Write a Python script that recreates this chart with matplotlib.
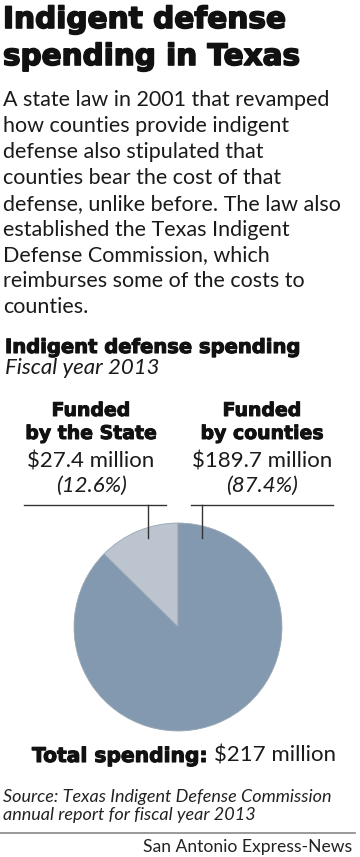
import matplotlib
matplotlib.use("Agg")
import matplotlib.pyplot as plt
import matplotlib.patheffects as pe
from matplotlib.lines import Line2D

# data
labels = ["Funded\nby the State", "Funded\nby counties"]
amounts = [27.4, 189.7]          # millions of dollars
shares = [12.6, 87.4]            # percent
total = 217
colors = ["#bcc4cf", "#8299af"]

title_lines = ["Indigent defense", "spending in Texas"]
body_lines = ["A state law in 2001 that revamped",
              "how counties provide indigent",
              "defense also stipulated that",
              "counties bear the cost of that",
              "defense, unlike before. The law also",
              "established the Texas Indigent",
              "Defense Commission, which",
              "reimburses some of the costs to",
              "counties."]
source_lines = ["Source: Texas Indigent Defense Commission",
                "annual report for fiscal year 2013"]

W, H = 360, 857
fig = plt.figure(figsize=(W / 100, H / 100), dpi=100)
fig.patch.set_facecolor("white")
FONT = "Lato"
BOLD = "DejaVu Sans"


def px(x, y):
    return x / W, 1 - y / H


def txt(x, y, s, width=None, heavy=0, **kw):
    kw.setdefault("family", FONT)
    kw.setdefault("va", "baseline")
    t = fig.text(*px(x, y), s, **kw)
    if heavy:
        # thicken the strokes a bit, the original uses a black weight
        t.set_path_effects([pe.withStroke(linewidth=heavy, foreground=t.get_color())])
    if width:
        # scale the font so the line takes the same width as in the reference
        fig.canvas.draw()
        w = t.get_window_extent().width
        t.set_fontsize(t.get_fontsize() * width / w)
    return t


# header
txt(3, 28, title_lines[0], width=283, heavy=1.2, fontsize=20, family=BOLD,
    weight="bold", color="#111111")
txt(3, 65, title_lines[1], width=297, heavy=1.2, fontsize=20, family=BOLD,
    weight="bold", color="#111111")
for i, line in enumerate(body_lines):
    txt(3, 106 + 25.9 * i, line, fontsize=15.5, color="#1a1a1a")

txt(5, 353, "Indigent defense spending", width=296, heavy=0.8, fontsize=14,
    family=BOLD, weight="bold", color="#111111")
txt(5, 374, "Fiscal year 2013", width=155, fontsize=14, style="italic", color="#1a1a1a")

# labels above the pie
centers = [91, 262]
for cx, lab, amt, sh in zip(centers, labels, amounts, shares):
    l1, l2 = lab.split("\n")
    txt(cx, 416, l1, fontsize=13.6, heavy=0.7, family=BOLD, weight="bold",
        ha="center", color="#111111")
    txt(cx, 439, l2, fontsize=13.6, heavy=0.7, family=BOLD, weight="bold",
        ha="center", color="#111111")
    txt(cx, 468, "$%.1f million" % amt, fontsize=16, ha="center", color="#1a1a1a")
    txt(cx, 492, "(%.1f%%)" % sh, fontsize=16, style="italic", ha="center", color="#1a1a1a")

# leader lines
for x0, x1, xt in [(24, 166, 148), (191, 333, 202)]:
    fig.add_artist(Line2D([x0 / W, x1 / W], [1 - 505 / H] * 2, color="#333333", lw=1))
    fig.add_artist(Line2D([xt / W] * 2, [1 - 505 / H, 1 - 538 / H], color="#333333", lw=1))

# pie
r = 105
ax = fig.add_axes([(178 - r) / W, (H - 627 - r) / H, 2 * r / W, 2 * r / H])
ax.pie(amounts, colors=colors, startangle=90, counterclock=True, radius=1,
       wedgeprops=dict(edgecolor="#9aa6b2", linewidth=0.6))
ax.set_xlim(-1.01, 1.01)
ax.set_ylim(-1.01, 1.01)
ax.set_aspect("equal")
ax.axis("off")

# total
tb = txt(32, 762, "Total spending:", width=176, heavy=0.8, fontsize=14.5,
         family=BOLD, weight="bold", color="#111111")
fig.canvas.draw()
bb = tb.get_window_extent()
fig.text((bb.x1 + 6) / W, 1 - 762 / H, "$%d million" % total, family=FONT,
         fontsize=16, va="baseline", color="#1a1a1a")

# source and credit
for i, line in enumerate(source_lines):
    txt(3, 802 + 18 * i, line, fontsize=13, style="italic", color="#222222")
fig.add_artist(Line2D([0, 355 / W], [1 - 833 / H] * 2, color="#888888", lw=1.2))
txt(352, 852, "San Antonio Express-News", fontsize=12.6, ha="right", color="#222222")

fig.savefig("out.png", dpi=100, facecolor="white")
